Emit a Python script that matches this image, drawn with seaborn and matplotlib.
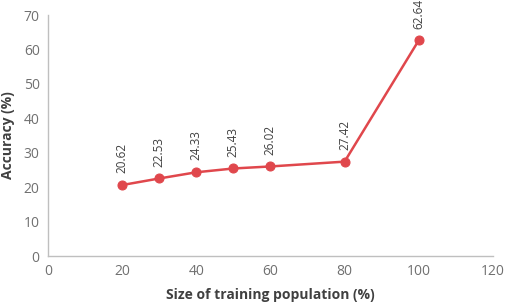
import matplotlib
matplotlib.use("Agg")
import matplotlib.pyplot as plt
import seaborn as sns
import pandas as pd

# Data
train_size = [20, 30, 40, 50, 60, 80, 100]
accuracy = [20.62, 22.53, 24.33, 25.43, 26.02, 27.42, 62.64]
x_ticks = [0, 20, 40, 60, 80, 100, 120]
y_ticks = [0, 10, 20, 30, 40, 50, 60, 70]

LINE_COLOR = "#E0474C"
TICK_COLOR = "#707070"
LABEL_COLOR = "#404040"

sns.set_style("white")
plt.rcParams["font.family"] = ["Open Sans", "DejaVu Sans"]

df = pd.DataFrame({"size": train_size, "acc": accuracy})

fig = plt.figure(figsize=(5.05, 3.07), dpi=100)
ax = fig.add_axes([0.095, 0.166, 0.881, 0.785])

sns.lineplot(data=df, x="size", y="acc", ax=ax, color=LINE_COLOR, lw=1.8,
             marker="o", markersize=6.5, markeredgecolor=LINE_COLOR)

# rotated value labels above each point
for x, y in zip(train_size, accuracy):
    ax.annotate(f"{y:.2f}", (x, y), xytext=(0, 8.5), textcoords="offset points",
                rotation=90, ha="center", va="bottom", fontsize=8.5,
                color=LABEL_COLOR)

ax.set_xlim(0, 120)
ax.set_ylim(0, 70)
ax.set_xticks(x_ticks)
ax.set_yticks(y_ticks)
ax.tick_params(axis="both", length=0, labelsize=10, colors=TICK_COLOR, pad=6)

ax.set_xlabel("Size of training population (%)", fontsize=10, fontweight="bold",
              color=LABEL_COLOR, labelpad=6)
ax.set_ylabel("Accuracy (%)", fontsize=10, fontweight="bold",
              color=LABEL_COLOR, labelpad=6)

for side in ["top", "right"]:
    ax.spines[side].set_visible(False)
for side in ["left", "bottom"]:
    ax.spines[side].set_color("#BFBFBF")
    ax.spines[side].set_linewidth(1.0)

fig.savefig("out.png", dpi=100)
